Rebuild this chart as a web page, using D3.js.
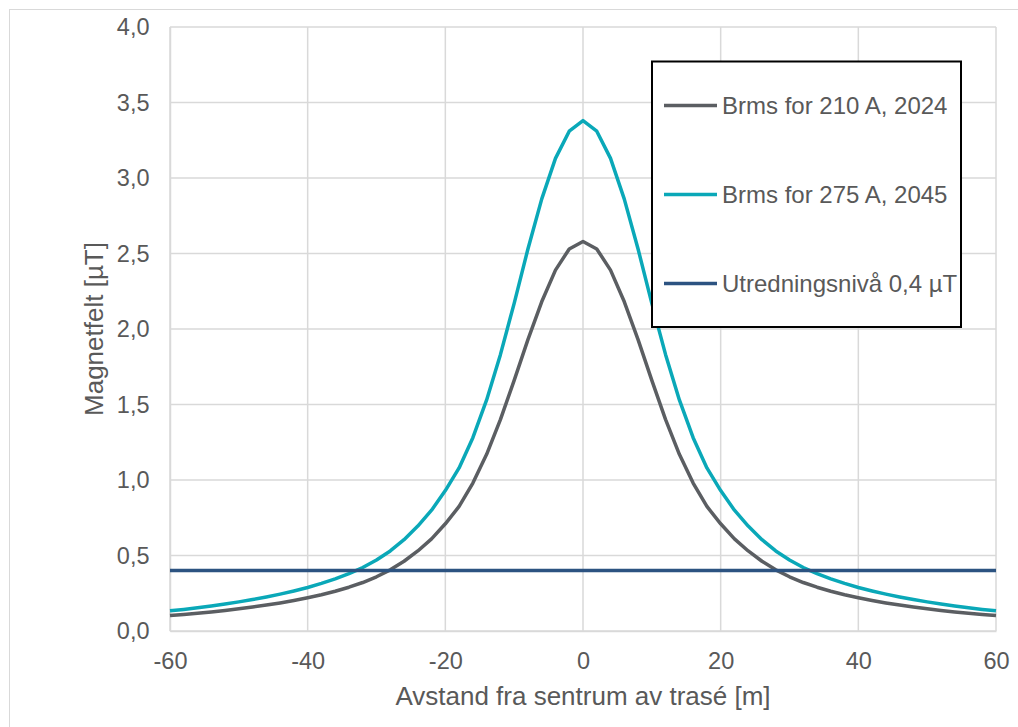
<!DOCTYPE html>
<html><head><meta charset="utf-8">
<script src="https://cdn.jsdelivr.net/npm/d3@7"></script>
<style>body{margin:0;background:#fff}svg{display:block}text{font-family:"Liberation Sans",Arial,sans-serif;fill:#595959}</style>
</head><body><svg id="c" width="1018" height="727"></svg>
<script>
const distances = d3.range(-60, 61, 2);
// values for x = 0,2,...,60 (symmetric profile)
const brms210Half = [2.58,2.53,2.39,2.18,1.93,1.66,1.40,1.17,0.98,0.825,0.71,0.61,0.53,0.462,0.405,0.359,0.321,0.290,0.263,0.240,0.220,0.202,0.186,0.172,0.159,0.147,0.136,0.126,0.117,0.109,0.102];
const brms275Half = [3.38,3.31,3.13,2.86,2.53,2.17,1.83,1.53,1.28,1.08,0.93,0.80,0.695,0.605,0.53,0.47,0.42,0.38,0.345,0.315,0.288,0.265,0.244,0.225,0.208,0.193,0.179,0.166,0.154,0.143,0.134];
const brms210 = brms210Half.slice(1).reverse().concat(brms210Half);
const brms275 = brms275Half.slice(1).reverse().concat(brms275Half);
const thresholdX = [-60, 60];
const thresholdY = [0.4, 0.4];
const xTicks = [-60,-40,-20,0,20,40,60];
const yTicks = [0,0.5,1,1.5,2,2.5,3,3.5,4];
const seriesNames = ["Brms for 210 A, 2024","Brms for 275 A, 2045","Utredningsnivå 0,4 µT"];
const seriesColors = ["#5b5e62","#0aa8b8","#2c5381"];

const svg = d3.select("#c");
svg.append("rect").attr("x",9.5).attr("y",9.5).attr("width",1030).attr("height",730).attr("fill","#fff").attr("stroke","#d9d9d9");

const x = d3.scaleLinear().domain([-60,60]).range([170,996]);
const y = d3.scaleLinear().domain([0,4]).range([631,27]);
const fmt = d => d3.format(".1f")(d).replace(".",",");

// grid
svg.append("g").selectAll("line").data(yTicks).join("line")
  .attr("x1",170).attr("x2",996).attr("y1",d=>y(d)).attr("y2",d=>y(d))
  .attr("stroke","#d9d9d9").attr("stroke-width",1.5);
svg.append("g").selectAll("line").data(xTicks).join("line")
  .attr("y1",27).attr("y2",631).attr("x1",d=>x(d)).attr("x2",d=>x(d))
  .attr("stroke","#d9d9d9").attr("stroke-width",1.5);

// axes
const xAxis = svg.append("g").attr("transform","translate(0,631)")
  .call(d3.axisBottom(x).tickValues(xTicks).tickFormat(d=>d).tickSize(0).tickPadding(21));
xAxis.select(".domain").attr("stroke","#d9d9d9").attr("stroke-width",1.5);
xAxis.selectAll("text").style("font-size","23.5px").attr("fill","#595959").style("font-family","Liberation Sans, Arial, sans-serif");
const yAxis = svg.append("g").attr("transform","translate(170,0)")
  .call(d3.axisLeft(y).tickValues(yTicks).tickFormat(fmt).tickSize(0).tickPadding(20.5));
yAxis.select(".domain").attr("stroke","#d9d9d9").attr("stroke-width",1.5);
yAxis.selectAll("text").style("font-size","23.5px").attr("fill","#595959").style("font-family","Liberation Sans, Arial, sans-serif");

// titles
svg.append("text").attr("x",583).attr("y",705).attr("text-anchor","middle").style("font-size","26px").text("Avstand fra sentrum av trasé [m]");
svg.append("text").attr("transform","translate(103,329) rotate(-90)").attr("text-anchor","middle").style("font-size","26px").text("Magnetfelt [µT]");

// lines
const line = d3.line().x(d=>x(d[0])).y(d=>y(d[1]));
const series = [
  distances.map((d,i)=>[d,brms210[i]]),
  distances.map((d,i)=>[d,brms275[i]]),
  thresholdX.map((d,i)=>[d,thresholdY[i]])
];
series.forEach((s,i)=>{
  svg.append("path").datum(s).attr("d",line).attr("fill","none")
    .attr("stroke",seriesColors[i]).attr("stroke-width",3.5).attr("stroke-linejoin","round");
});

// legend
const lg = svg.append("g");
lg.append("rect").attr("x",652).attr("y",61.5).attr("width",309).attr("height",265.5).attr("fill","#fff").attr("stroke","#000").attr("stroke-width",2);
const ly = [105.5,194.5,283.5];
seriesNames.forEach((n,i)=>{
  lg.append("line").attr("x1",664).attr("x2",717).attr("y1",ly[i]).attr("y2",ly[i]).attr("stroke",seriesColors[i]).attr("stroke-width",3.5);
  lg.append("text").attr("x",722).attr("y",ly[i]+8.5).style("font-size","24px").text(n);
});
</script></body></html>
